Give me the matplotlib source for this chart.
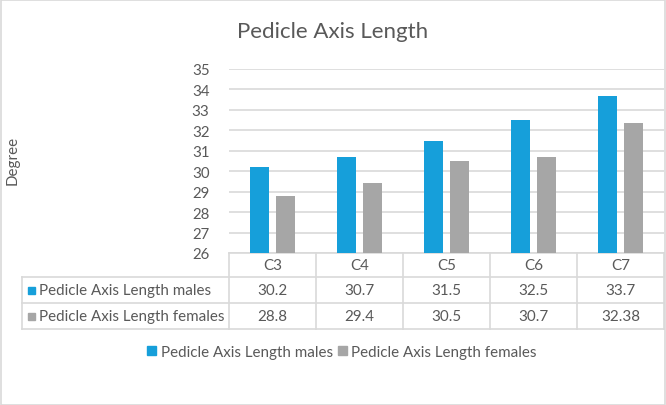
import numpy as np
import matplotlib.pyplot as plt
from matplotlib.transforms import blended_transform_factory
from matplotlib.patches import Rectangle

plt.rcParams['font.family'] = ['Lato', 'DejaVu Sans']

categories = ['C3', 'C4', 'C5', 'C6', 'C7']
males = [30.2, 30.7, 31.5, 32.5, 33.7]
females = [28.8, 29.4, 30.5, 30.7, 32.38]
male_labels = ['30.2', '30.7', '31.5', '32.5', '33.7']
female_labels = ['28.8', '29.4', '30.5', '30.7', '32.38']
series_names = ['Pedicle Axis Length males', 'Pedicle Axis Length females']

blue = '#169FDA'
gray = '#A6A6A6'
text_col = '#595959'
line_col = '#D9D9D9'

W, H = 666, 406
fig = plt.figure(figsize=(W / 100, H / 100), dpi=100)

def fx(x):
    return x / W

def fy(y):
    return 1 - y / H

# plot area in pixels
left, right, top, bottom = 229, 664, 70, 254
ax = fig.add_axes([fx(left), fy(bottom), fx(right) - fx(left), fy(top) - fy(bottom)])

x = np.arange(len(categories))
w = 0.22
ax.bar(x - 0.145, [m - 26 for m in males], w, bottom=26, color=blue, zorder=3)
ax.bar(x + 0.145, [f - 26 for f in females], w, bottom=26, color=gray, zorder=3)

ax.set_xlim(-0.5, len(categories) - 0.5)
ax.set_ylim(26, 35)
ax.set_yticks(range(26, 36))
ax.yaxis.grid(True, color=line_col, linewidth=1.2, zorder=0)
ax.tick_params(axis='y', length=0, labelsize=10.8, labelcolor=text_col, pad=14)
ax.set_xticks([])
for s in ['top', 'right', 'left']:
    ax.spines[s].set_visible(False)
ax.spines['bottom'].set_color(line_col)
ax.spines['bottom'].set_linewidth(1.2)

# data table
tr = blended_transform_factory(ax.transData, fig.transFigure)
rows_y = [254, 278, 304, 330]
lw = 1.2
fs = 10.9
for yy in rows_y[1:]:
    fig.add_artist(plt.Line2D([fx(22), fx(right)], [fy(yy), fy(yy)], color=line_col, lw=lw))
for b in np.arange(-0.5, len(categories), 1.0):
    ax.plot([b, b], [fy(254), fy(330)], color=line_col, lw=lw, transform=tr, clip_on=False)
fig.add_artist(plt.Line2D([fx(22), fx(22)], [fy(278), fy(330)], color=line_col, lw=lw))

for i, c in enumerate(categories):
    ax.text(i, fy(266), c, transform=tr, ha='center', va='center', fontsize=fs, color=text_col)
    ax.text(i, fy(291), male_labels[i], transform=tr, ha='center', va='center', fontsize=fs, color=text_col)
    ax.text(i, fy(317), female_labels[i], transform=tr, ha='center', va='center', fontsize=fs, color=text_col)

for name, col, yc in [(series_names[0], blue, 291), (series_names[1], gray, 317)]:
    fig.add_artist(Rectangle((fx(28), fy(yc + 4)), fx(7), 7 / H, color=col))
    fig.text(fx(39), fy(yc), name, ha='left', va='center', fontsize=fs, color=text_col)

# legend
handles = [Rectangle((0, 0), 1, 1, color=blue), Rectangle((0, 0), 1, 1, color=gray)]
fig.legend(handles, series_names, loc='center', bbox_to_anchor=(fx(342), fy(353)), ncol=2,
           frameon=False, fontsize=10.9, labelcolor=text_col, handlelength=0.6, handleheight=0.6,
           handletextpad=0.3, columnspacing=0.3)

fig.text(fx(333), fy(32), 'Pedicle Axis Length', ha='center', va='center', fontsize=16, color=text_col)
fig.text(fx(13), fy(160), 'Degree', ha='center', va='center', rotation=90, fontsize=10.9, color=text_col)

fig.add_artist(Rectangle((0.5 / W, 0.5 / H), 1 - 1.5 / W, 1 - 1.5 / H, fill=False, edgecolor=line_col, lw=1.2))

fig.savefig('out.png', dpi=100)
